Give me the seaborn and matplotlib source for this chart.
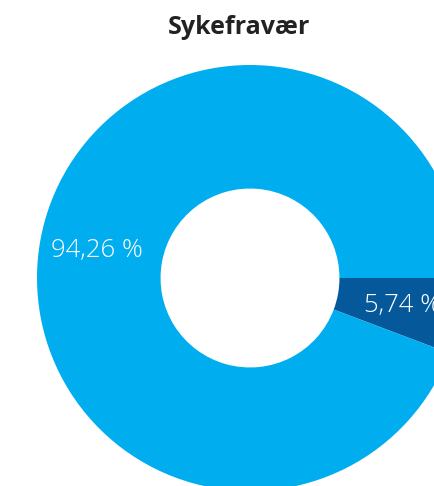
import seaborn as sns
import matplotlib.pyplot as plt

# data
categories = ["Sykefravær", "Tilstede"]
shares = [5.74, 94.26]
colors = ["#05599b", "#00adee"]

sns.set_theme(style="white")
plt.rcParams['font.family'] = ['Open Sans', 'DejaVu Sans']

fig = plt.figure(figsize=(4.35, 4.86), dpi=100)
ax = fig.add_axes([0, 0, 1, 1])

wedges, texts, autotexts = ax.pie(
    shares, colors=colors, startangle=0, counterclock=False,
    autopct=lambda p: f"{p:.2f} %".replace('.', ','),
    pctdistance=0.73, wedgeprops=dict(width=0.58, linewidth=0),
    textprops=dict(color='white', fontsize=18.5, fontweight='light'))

# place the donut like the reference: centre at (250, 278) px, radius 213 px
r = 213
ax.set_xlim(-250 / r, (435 - 250) / r)
ax.set_ylim(-(486 - 278) / r, 278 / r)
ax.set_aspect('auto')
ax.axis('off')

fig.text(239 / 435, 1 - 28 / 486, "Sykefravær", ha='center', va='center',
         fontsize=18, fontweight='bold', color='#222222')

fig.savefig("out.png", dpi=100)
